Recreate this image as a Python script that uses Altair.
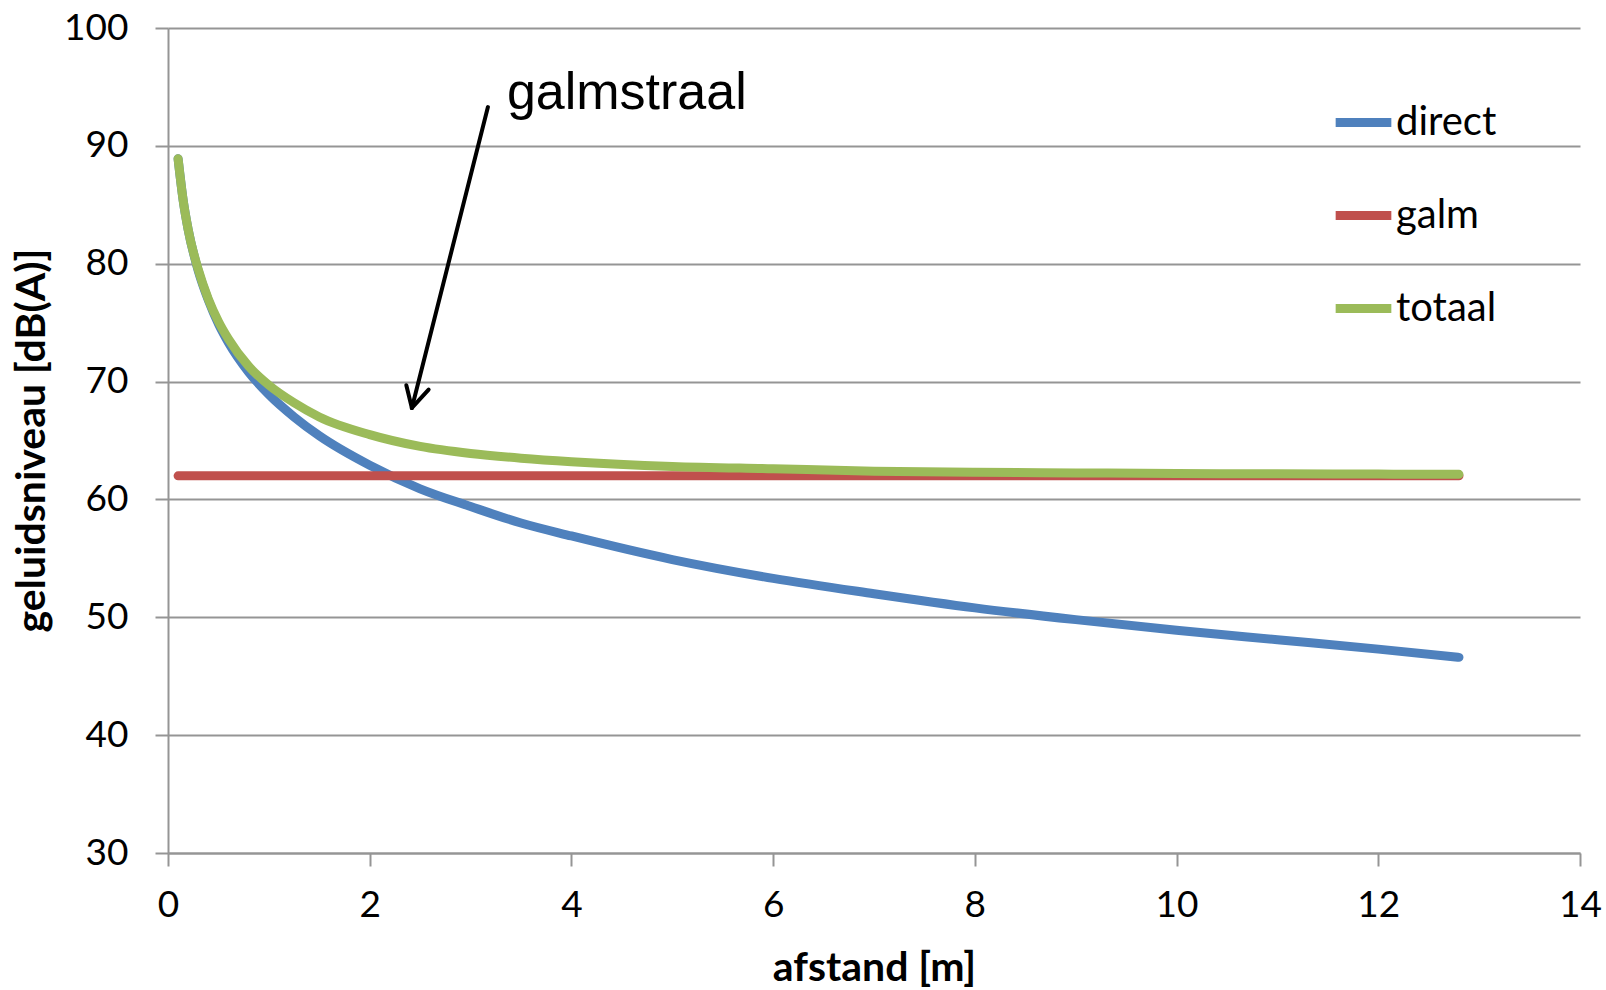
import altair as alt
import pandas as pd

# distance from the source [m]
afstand = [0.1, 0.15, 0.2, 0.3, 0.4, 0.5, 0.6, 0.8, 1.0, 1.25, 1.5, 2.0, 2.5,
           3.0, 3.5, 4.0, 5.0, 6.0, 7.0, 8.0, 9.0, 10.0, 11.0, 12.0, 12.8]

# direct sound level [dB(A)]
direct = [88.9, 85.4, 82.9, 79.4, 76.9, 74.9, 73.3, 70.8, 68.9, 67.0, 65.4, 62.9, 60.9,
          59.4, 58.0, 56.9, 54.9, 53.3, 52.0, 50.8, 49.8, 48.9, 48.1, 47.3, 46.6]

# total level (direct + reverberant) [dB(A)]
totaal = [88.9, 85.4, 82.9, 79.5, 77.0, 75.1, 73.6, 71.3, 69.7, 68.2, 67.0, 65.5, 64.5,
          63.9, 63.5, 63.2, 62.8, 62.6, 62.4, 62.3, 62.25, 62.2, 62.17, 62.15, 62.13]

# reverberant level is constant over the room [dB(A)]
galm_afstand = [0.1, 12.8]
galm = [62.0, 62.0]

reeksen = ["direct", "galm", "totaal"]
kleuren = ["#4F81BD", "#C0504D", "#9BBB59"]

# annotation: label and arrow pointing at the total curve
label_pos = (3.36, 93.15)
pijl_start = (3.172, 93.29)
pijl_punt = (2.418, 67.76)
pijl_arm1 = (2.363, 69.69)
pijl_arm2 = (2.584, 69.32)

rows = []
for x, y in zip(afstand, direct):
    rows.append({"afstand": x, "niveau": y, "reeks": "direct"})
for x, y in zip(galm_afstand, galm):
    rows.append({"afstand": x, "niveau": y, "reeks": "galm"})
for x, y in zip(afstand, totaal):
    rows.append({"afstand": x, "niveau": y, "reeks": "totaal"})
df = pd.DataFrame(rows)

FONT = "Lato"

x_enc = alt.X(
    "afstand:Q",
    scale=alt.Scale(domain=[0, 14], nice=False, zero=False),
    axis=alt.Axis(
        values=list(range(0, 15, 2)),
        format="d",
        labelFlush=False,
        title="afstand [m]",
        grid=False,
        tickSize=13,
        labelPadding=21,
        titleX=706,
        titleY=127,
        titleBaseline="alphabetic",
    ),
)
y_enc = alt.Y(
    "niveau:Q",
    scale=alt.Scale(domain=[30, 100], nice=False, zero=False),
    axis=alt.Axis(
        values=list(range(30, 101, 10)),
        format="d",
        labelFlush=False,
        title="geluidsniveau [dB(A)]",
        grid=True,
        tickSize=13,
        labelPadding=27,
        titleX=-124,
        titleY=412,
        titleBaseline="alphabetic",
        titleAlign="center",
    ),
)
color_enc = alt.Color(
    "reeks:N",
    scale=alt.Scale(domain=reeksen, range=kleuren),
    legend=alt.Legend(
        title=None,
        orient="none",
        legendX=1163,
        legendY=62,
        symbolType="stroke",
        symbolStrokeWidth=9,
        symbolSize=3100,
        labelFont=FONT,
        labelFontSize=40,
        labelColor="black",
        labelOffset=0,
        rowPadding=40,
    ),
)

layers = []
for s in reeksen:
    layers.append(
        alt.Chart(df[df.reeks == s])
        .mark_line(strokeWidth=9, strokeCap="round", interpolate="monotone")
        .encode(x=x_enc, y=y_enc, color=color_enc)
    )

pijl_df = pd.DataFrame([
    {"afstand": pijl_start[0], "niveau": pijl_start[1], "afstand2": pijl_punt[0], "niveau2": pijl_punt[1]},
    {"afstand": pijl_arm1[0], "niveau": pijl_arm1[1], "afstand2": pijl_punt[0], "niveau2": pijl_punt[1]},
    {"afstand": pijl_arm2[0], "niveau": pijl_arm2[1], "afstand2": pijl_punt[0], "niveau2": pijl_punt[1]},
])
pijl = alt.Chart(pijl_df).mark_rule(color="black", strokeWidth=4, strokeCap="round").encode(
    x="afstand:Q", y="niveau:Q", x2="afstand2:Q", y2="niveau2:Q"
)

label_df = pd.DataFrame([{"afstand": label_pos[0], "niveau": label_pos[1], "tekst": "galmstraal"}])
label = alt.Chart(label_df).mark_text(
    align="left", baseline="alphabetic", font="Liberation Sans", fontSize=52, color="black"
).encode(x="afstand:Q", y="niveau:Q", text="tekst:N")

chart = (
    alt.layer(*layers, pijl, label)
    .properties(
        width=1412,
        height=825,
        autosize=alt.AutoSizeParams(type="none"),
        padding={"left": 168, "top": 28, "right": 26, "bottom": 137},
        background="white",
    )
    .configure_view(stroke=None)
    .configure_axis(
        domainColor="#959595",
        domainWidth=2,
        tickColor="#959595",
        tickWidth=2,
        gridColor="#959595",
        gridWidth=2,
        labelFont=FONT,
        labelFontSize=37,
        labelColor="black",
        titleFont=FONT,
        titleFontSize=41,
        titleFontWeight="bold",
        titleColor="black",
    )
)

chart.save("out.html", embed_options={"renderer": "svg", "actions": False})
